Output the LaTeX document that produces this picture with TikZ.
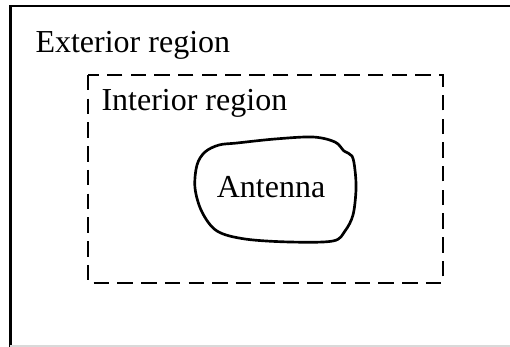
\documentclass[tikz,border=0pt]{standalone}
\usepackage{fontspec}
\setmainfont{Liberation Serif}
\begin{document}
\begin{tikzpicture}[x=0.375pt,y=-0.375pt,
  lbl/.style={anchor=base west,inner sep=0pt,font=\fontsize{12}{14}\selectfont},
  outer/.style={line width=0.85pt,black},
  inner/.style={line width=0.95pt,dash pattern=on 5.8pt off 3.1pt},
  blob/.style={line width=1pt,line join=round}]
\useasboundingbox (0,0) rectangle (510,347);
% exterior boundary (partly cut off)
\draw[outer] (10.5,347) -- (10.5,6) -- (512,6);
\draw[line width=0.4pt,black!15] (10.5,346) -- (512,346);
% interior region
\draw[inner] (88,75) rectangle (443,283);
% antenna
\draw[blob] plot[smooth cycle,tension=0.55] coordinates {
 (237,143) (275,139) (313,137) (335,142) (344,151) (352,156) (355,170) (356,190)
 (353,215) (345,231) (333,241) (290,242) (245,239) (217,231) (202,212)
 (195,188) (197,165) (205,152) (219,145)};
\node[lbl] (ext) at (35,52) {Exterior region};
\node[lbl] (int) at (101,110) {Interior region};
\node[anchor=base,inner sep=0pt,font=\fontsize{12}{14}\selectfont] (ant) at (271,197) {Antenna};
\end{tikzpicture}
\end{document}
